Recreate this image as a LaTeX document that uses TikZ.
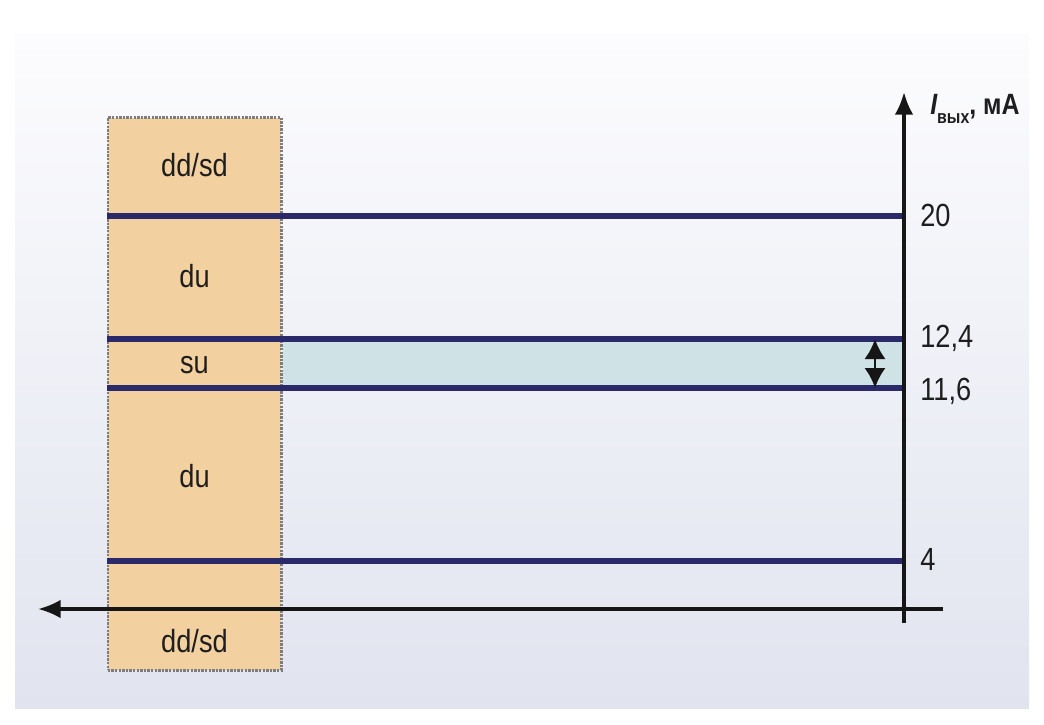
\documentclass[tikz,border=0pt]{standalone}
\usepackage{fontspec}
\setmainfont{Liberation Sans}[FakeStretch=0.85]
\usetikzlibrary{arrows.meta, positioning}

\begin{document}
\begin{tikzpicture}[x = 0.75pt, y = -0.75pt,
        level/.style = {draw = mynavy, line width = 4.5pt},
        axis/.style = {draw = myaxis, line width = 2.6pt, -{Latex[length = 17pt, width = 14pt]}},
        zone/.style = {anchor = base, inner sep = 0pt, text = mytext, font = \fontsize{24}{28}\selectfont},
        value/.style = {anchor = base west, inner sep = 0pt, text = mytext, font = \fontsize{24}{28}\selectfont}]
        \definecolor{mybgtop}{RGB}{252,252,254}
        \definecolor{mybgbottom}{RGB}{225,228,239}
        \definecolor{myorange}{RGB}{242,208,160}
        \definecolor{myband}{RGB}{207,226,230}
        \definecolor{mynavy}{RGB}{42,42,106}
        \definecolor{myaxis}{RGB}{22,22,22}
        \definecolor{mytext}{RGB}{30,30,30}
        \definecolor{mygray}{RGB}{125,125,125}

        \useasboundingbox (0, 0) rectangle (1044, 724);
        \shade[top color = mybgtop, bottom color = mybgbottom] (15, 35) rectangle (1029, 708);

        % state column
        \node[draw = mygray, line width = 2pt, dash pattern = on 1.8pt off 0.9pt, fill = myorange, rectangle, minimum width = 130pt, minimum height = 414.5pt, inner sep = 0pt] at (194.5, 394) (box) {};

        \coordinate (l20) at (107, 216);
        \coordinate (r20) at (903, 216);
        \coordinate (l124) at (107, 339);
        \coordinate (r124) at (903, 339);
        \coordinate (l116) at (107, 388);
        \coordinate (r116) at (903, 388);
        \coordinate (l4) at (107, 561);
        \coordinate (r4) at (903, 561);

        \fill[myband] (box.east |- l124) rectangle (r116);

        \draw[level] (l20) -- (r20);
        \draw[level] (l124) -- (r124);
        \draw[level] (l116) -- (r116);
        \draw[level] (l4) -- (r4);

        % axes
        \coordinate (ybot) at (904, 623);
        \coordinate (ytip) at (904, 92);
        \coordinate (xright) at (943, 609);
        \coordinate (xtip) at (38, 609);
        \draw[axis] (ybot) -- (ytip);
        \draw[axis] (xright) -- (xtip);

        \draw[draw = myaxis, line width = 2.2pt, {Latex[length = 15pt, width = 16pt]}-{Latex[length = 15pt, width = 16pt]}] ([xshift = -21pt] r124) -- ([xshift = -21pt] r116);

        \node[anchor = base west, inner sep = 0pt, text = mytext, font = \fontsize{22}{26}\selectfont\bfseries] at (930, 114) (ylabel) {\itshape I\upshape\raisebox{-6.75pt}{\fontsize{14}{16}\selectfont вых}, мА};

        \node[value] at (920, 226) (t20) {20};
        \node[value] at (920, 347) (t124) {12,4};
        \node[value] at (920, 400) (t116) {11,6};
        \node[value] at (920, 570) (t4) {4};

        \node[zone] at (box.center |- 0, 176) (z0) {dd/sd};
        \node[zone] at (box.center |- 0, 287) (z1) {du};
        \node[zone] at (box.center |- 0, 373) (z2) {su};
        \node[zone] at (box.center |- 0, 487) (z3) {du};
        \node[zone] at (box.center |- 0, 652) (z4) {dd/sd};
\end{tikzpicture}
\end{document}
